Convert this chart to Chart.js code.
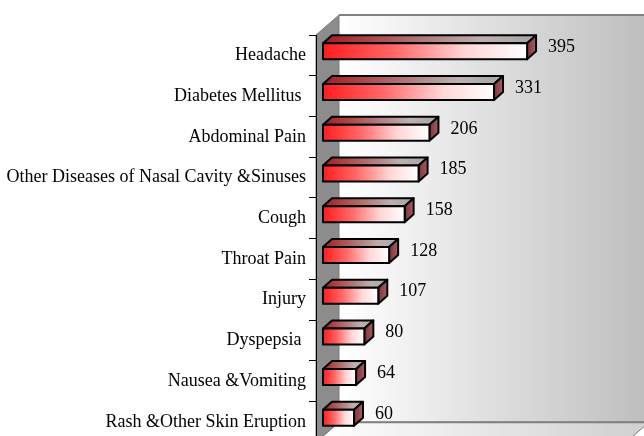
<!DOCTYPE html>
<html>
<head>
<meta charset="utf-8">
<script src="https://cdn.jsdelivr.net/npm/chart.js@4"></script>
<style>
  html, body { margin: 0; padding: 0; background: #fff; overflow: hidden; }
  /* the plot box runs a few pixels past the bottom edge, as in the original */
  canvas { display: block; }
</style>
</head>
<body>
<canvas id="myChart" width="644" height="456"></canvas>
<script>
const categories = ['Headache', 'Diabetes Mellitus ', 'Abdominal Pain', 'Other Diseases of Nasal Cavity &Sinuses',
  'Cough', 'Throat Pain', 'Injury', 'Dyspepsia ', 'Nausea &Vomiting', 'Rash &Other Skin Eruption'];
const cases = [395, 331, 206, 185, 158, 128, 107, 80, 64, 60];
const axisMax = 600;

const FONT = "'Liberation Serif', 'Times New Roman', serif";
const WALL = { dx: 23, dy: 20 };   // depth of the plot box
const BAR = { dx: 9, dy: 8, ox: 7, oy: -4 }; // bar depth and its shift inside the box

// walls and floor behind everything
const walls = {
  id: 'walls',
  beforeDraw(chart) {
    const { ctx, chartArea: a } = chart;
    const L = a.left, T = a.top, R = a.right, B = a.bottom;
    ctx.save();
    // back wall
    let g = ctx.createLinearGradient(L + WALL.dx, 0, R + WALL.dx, 0);
    g.addColorStop(0, '#ffffff');
    g.addColorStop(1, '#bdbdbd');
    ctx.fillStyle = g;
    ctx.fillRect(L + WALL.dx, T - WALL.dy, R - L, B - T);
    // floor
    g = ctx.createLinearGradient(L, 0, R + WALL.dx, 0);
    g.addColorStop(0, '#ffffff');
    g.addColorStop(1, '#cfcfcf');
    ctx.fillStyle = g;
    ctx.beginPath();
    ctx.moveTo(L, B);
    ctx.lineTo(L + WALL.dx, B - WALL.dy);
    ctx.lineTo(R + WALL.dx, B - WALL.dy);
    ctx.lineTo(R, B);
    ctx.closePath();
    ctx.fill();
    ctx.strokeStyle = '#7a7a7a';
    ctx.lineWidth = 1;
    ctx.stroke();
    // left wall
    ctx.fillStyle = '#8c8c8c';
    ctx.beginPath();
    ctx.moveTo(L, T);
    ctx.lineTo(L + WALL.dx, T - WALL.dy);
    ctx.lineTo(L + WALL.dx, B - WALL.dy);
    ctx.lineTo(L, B);
    ctx.closePath();
    ctx.fill();
    ctx.stroke();
    // edges of the back wall
    ctx.strokeStyle = '#808080';
    ctx.lineWidth = 2;
    ctx.beginPath();
    ctx.moveTo(L + WALL.dx, T - WALL.dy);
    ctx.lineTo(R + WALL.dx, T - WALL.dy);
    ctx.moveTo(L + WALL.dx, B - WALL.dy);
    ctx.lineTo(R + WALL.dx, B - WALL.dy);
    ctx.stroke();
    ctx.restore();
  }
};

// 3D boxes and value labels, from the bar elements the scales placed
const boxes = {
  id: 'boxes',
  afterDatasetsDraw(chart) {
    const { ctx } = chart;
    const meta = chart.getDatasetMeta(0);
    ctx.save();
    ctx.lineJoin = 'round';
    ctx.lineWidth = 2;
    ctx.strokeStyle = '#000';
    meta.data.forEach((bar, i) => {
      const p = bar.getProps(['x', 'y', 'base', 'height'], true);
      const x0 = p.base + BAR.ox, x1 = p.x + BAR.ox;
      const y0 = p.y - p.height / 2 + BAR.oy, y1 = p.y + p.height / 2 + BAR.oy;
      // top face
      let g = ctx.createLinearGradient(x0, 0, x1 + BAR.dx, 0);
      g.addColorStop(0, '#a81c1c');
      g.addColorStop(0.45, '#b07575');
      g.addColorStop(0.75, '#bdb0b0');
      g.addColorStop(1, '#a5a5a5');
      ctx.fillStyle = g;
      ctx.beginPath();
      ctx.moveTo(x0, y0);
      ctx.lineTo(x0 + BAR.dx, y0 - BAR.dy);
      ctx.lineTo(x1 + BAR.dx, y0 - BAR.dy);
      ctx.lineTo(x1, y0);
      ctx.closePath();
      ctx.fill();
      ctx.stroke();
      // side face
      g = ctx.createLinearGradient(x1, 0, x1 + BAR.dx, 0);
      g.addColorStop(0, '#8a3036');
      g.addColorStop(1, '#9a6266');
      ctx.fillStyle = g;
      ctx.beginPath();
      ctx.moveTo(x1, y0);
      ctx.lineTo(x1 + BAR.dx, y0 - BAR.dy);
      ctx.lineTo(x1 + BAR.dx, y1 - BAR.dy);
      ctx.lineTo(x1, y1);
      ctx.closePath();
      ctx.fill();
      ctx.stroke();
      // front face
      g = ctx.createLinearGradient(x0, 0, x1, 0);
      g.addColorStop(0, '#ff1c1c');
      g.addColorStop(0.35, '#ff6868');
      g.addColorStop(0.7, '#ffd6d6');
      g.addColorStop(1, '#ffffff');
      ctx.fillStyle = g;
      ctx.fillRect(x0, y0, x1 - x0, y1 - y0);
      ctx.strokeRect(x0, y0, x1 - x0, y1 - y0);
      // value
      ctx.fillStyle = '#000';
      ctx.font = '18px ' + FONT;
      ctx.textAlign = 'left';
      ctx.textBaseline = 'middle';
      ctx.fillText(String(cases[i]), x1 + 21, (y0 + y1) / 2 - 4);
    });
    ctx.restore();
  }
};

const ctx = document.getElementById('myChart').getContext('2d');
const myChart = new Chart(ctx, {
  type: 'bar',
  data: {
    labels: categories,
    datasets: [{
      label: 'Cases',
      data: cases,
      backgroundColor: 'rgba(0,0,0,0)',
      borderWidth: 0,
      barThickness: 16
    }]
  },
  options: {
    indexAxis: 'y',
    responsive: false,
    animation: false,
    layout: { padding: { top: 35, right: 18, bottom: 0, left: 0 } },
    plugins: {
      legend: { display: false },
      tooltip: { enabled: false }
    },
    scales: {
      x: { min: 0, max: axisMax, display: false },
      y: {
        afterFit(scale) { scale.width = 316; },
        border: { display: true, color: '#000', width: 1 },
        grid: { drawOnChartArea: false, drawTicks: true, tickLength: 7, color: '#000' },
        ticks: { color: '#000', padding: 3, font: { family: FONT, size: 18 } }
      }
    }
  },
  plugins: [walls, boxes]
});
</script>
</body>
</html>
